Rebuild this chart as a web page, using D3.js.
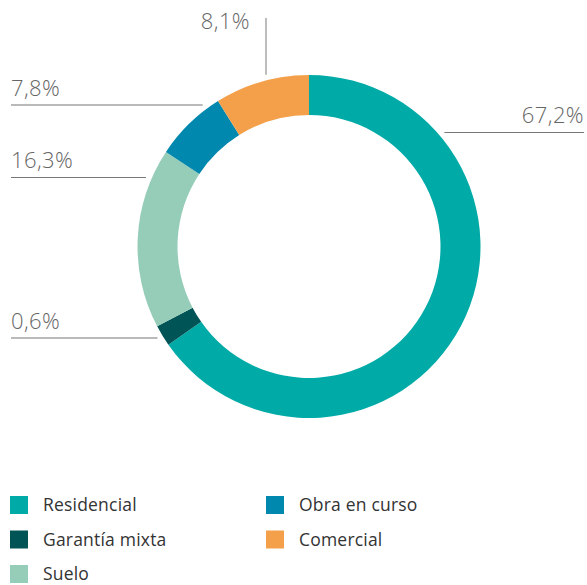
<!DOCTYPE html>
<html>
<head>
<meta charset="utf-8">
<script src="https://cdn.jsdelivr.net/npm/d3@7"></script>
<style>
  body { margin: 0; background: #fff; }
  svg { display: block; font-family: "Open Sans", "Noto Sans", sans-serif; }
</style>
</head>
<body>
<svg id="chart" width="587" height="585"></svg>
<script>
// categories, slice shares as drawn, and label texts
var categories = ["Residencial", "Garantía mixta", "Suelo", "Obra en curso", "Comercial"];
var shares = [65.3, 2.0, 17.0, 6.8, 8.9];
var labels = ["67,2%", "0,6%", "16,3%", "7,8%", "8,1%"];
var colors = ["#00aaa7", "#005455", "#96cdb9", "#0088ae", "#f4a04a"];

// label layout (side + line row), kept apart from the data
var labelLayout = [
    { side: "right", lineY: 132.5 },
    { side: "left", lineY: 338 },
    { side: "left", lineY: 177.5 },
    { side: "left", lineY: 105 },
    { side: "top", lineX: 266 }
];

var width = 587;
var height = 585;
var cx = 309, cy = 246.5;
var outerR = 171.5, innerR = 131.5, leadR = 177;

var svg = d3.select("#chart");

var pie = d3.pie().sort(null).value(d => d);
var arc = d3.arc().innerRadius(innerR).outerRadius(outerR);

var g = svg.append("g").attr("transform", `translate(${cx},${cy})`);

g.selectAll("path")
    .data(pie(shares))
    .join("path")
    .attr("fill", (d, i) => colors[i])
    .attr("d", arc);

// leader lines and labels
var lab = svg.append("g");
labelLayout.forEach((L, i) => {
    if (L.side === "top") {
        var dx = L.lineX - cx;
        var yEnd = cy - Math.sqrt(leadR * leadR - dx * dx);
        lab.append("line")
            .attr("x1", L.lineX).attr("x2", L.lineX)
            .attr("y1", 18).attr("y2", yEnd)
            .attr("stroke", "#9a9a9a").attr("stroke-width", 1.3);
        lab.append("text")
            .attr("x", L.lineX - 16).attr("y", 29)
            .attr("text-anchor", "end")
            .attr("fill", "#666")
            .style("font-size", "22px")
            .style("font-weight", 300)
            .style("letter-spacing", "0.4px")
            .text(labels[i]);
    } else {
        var dy = L.lineY - cy;
        var dxE = Math.sqrt(leadR * leadR - dy * dy);
        var xEnd = L.side === "right" ? cx + dxE : cx - dxE;
        var xOut = L.side === "right" ? 584 : 11;
        lab.append("line")
            .attr("x1", xOut).attr("x2", xEnd)
            .attr("y1", L.lineY).attr("y2", L.lineY)
            .attr("stroke", "#777").attr("stroke-width", 1.2);
        lab.append("text")
            .attr("x", xOut).attr("y", L.lineY - 9.5)
            .attr("text-anchor", L.side === "right" ? "end" : "start")
            .attr("fill", "#666")
            .style("font-size", "22px")
            .style("font-weight", 300)
            .style("letter-spacing", "0.4px")
            .text(labels[i]);
    }
});

// legend: first column three rows, second column two
var legendPos = [[10, 496], [10, 530.5], [10, 565], [266, 496], [266, 530.5]];
var legend = svg.append("g")
    .selectAll("g")
    .data(categories)
    .join("g")
    .attr("transform", (d, i) => `translate(${legendPos[i][0]},${legendPos[i][1]})`);

legend.append("rect")
    .attr("width", 18).attr("height", 18)
    .attr("fill", (d, i) => colors[i]);

legend.append("text")
    .attr("x", 33).attr("y", 15)
    .attr("fill", "#333")
    .style("font-size", "17.5px")
    .style("letter-spacing", "0.2px")
    .text(d => d);
</script>
</body>
</html>
